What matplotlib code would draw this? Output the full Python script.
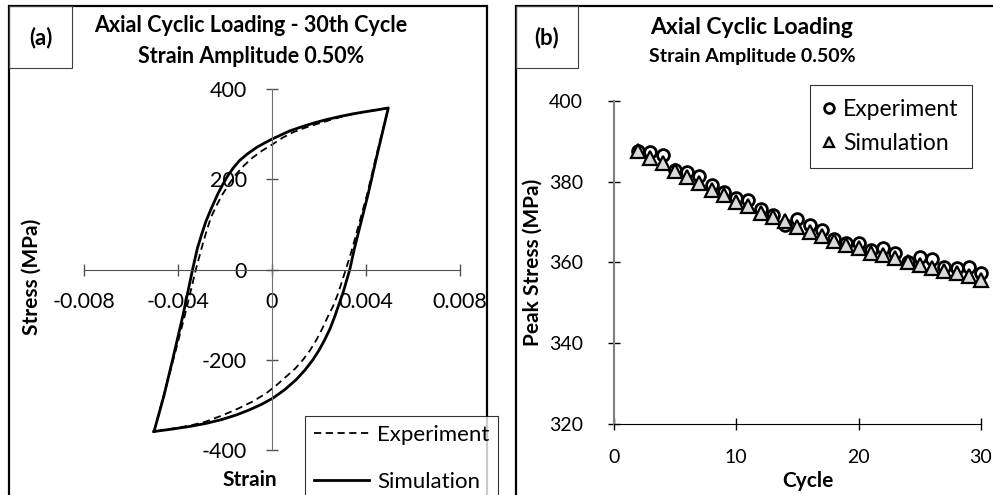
import matplotlib
matplotlib.use("Agg")
import matplotlib.pyplot as plt
from matplotlib.patches import Rectangle
from matplotlib.lines import Line2D

plt.rcParams['font.family'] = ['Lato', 'DejaVu Sans']
plt.rcParams['axes.unicode_minus'] = False

# (a) hysteresis loop, 30th cycle  (strain, stress MPa)
sim_strain = [-0.00502, -0.00460, -0.00423, -0.00380, -0.00338, -0.00317, -0.00298,
              -0.00281, -0.00256, -0.00231, -0.00210, -0.00189, -0.00165, -0.00139,
              -0.00105, -0.00067, -0.00033, 0.0, 0.00075, 0.00125, 0.00174, 0.00230,
              0.00288, 0.00345, 0.00402, 0.00450, 0.00495,
              0.00450, 0.00409, 0.00373, 0.00350, 0.00331, 0.00302, 0.00267, 0.00248,
              0.00224, 0.00200, 0.00174, 0.00140, 0.00103, 0.00055, 0.00004, -0.00045,
              -0.00096, -0.00150, -0.00210, -0.00280, -0.00352, -0.00430, -0.00502]
sim_stress = [-359, -280, -200, -104, 0, 48, 80,
              107, 138, 167, 188, 207, 225, 241,
              256, 270, 280, 289, 307, 316, 324, 332,
              339, 345, 350, 354, 358,
              260, 167, 93, 45, 0, -52, -104, -130,
              -156, -179, -200, -223, -244, -266, -285, -299,
              -311, -322, -332, -341, -348, -354, -359]

exp_strain = [-0.00502, -0.00420, -0.00372, -0.00324, -0.00295, -0.00278, -0.00260,
              -0.00236, -0.00210, -0.00182, -0.00153, -0.00118, -0.00082, -0.00040,
              0.00004, 0.00045, 0.00089, 0.00140, 0.00189, 0.00245, 0.00300, 0.00350,
              0.00400, 0.00450, 0.00495,
              0.00445, 0.00405, 0.00366, 0.00338, 0.00314, 0.00282, 0.00261, 0.00238,
              0.00214, 0.00189, 0.00162, 0.00132, 0.00098, 0.00061, 0.00020, -0.00024,
              -0.00080, -0.00139, -0.00210, -0.00281, -0.00350, -0.00430, -0.00502]
exp_stress = [-359, -200, -104, 0, 56, 86, 115,
              142, 167, 190, 211, 231, 248, 264,
              278, 292, 304, 314, 322, 331, 339, 345,
              350, 354, 358,
              255, 167, 93, 40, 0, -52, -80, -104,
              -131, -156, -179, -200, -220, -237, -256, -274,
              -292, -307, -323, -337, -346, -353, -359]

# (b) peak stress per cycle
cycles = list(range(2, 31))
exp_peak = [387.7, 387.4, 386.6, 383.0, 382.5, 381.4, 379.2, 377.5, 375.9, 375.6,
            373.2, 371.8, 369.3, 370.7, 369.3, 368.0, 365.8, 364.8, 364.9, 363.0,
            363.5, 362.3, 360.0, 361.4, 360.8, 359.0, 358.6, 359.0, 357.3]
sim_peak = [387.7, 385.8, 384.6, 382.7, 381.1, 379.6, 378.0, 376.7, 375.1, 374.0,
            372.2, 371.2, 370.4, 368.8, 367.6, 366.6, 365.4, 364.3, 363.5, 362.4,
            361.9, 361.0, 360.0, 359.4, 358.6, 358.0, 357.3, 356.7, 355.7]

W, H = 993, 495
fig = plt.figure(figsize=(W / 100, H / 100), dpi=100)


def fx(px):
    return px / W


def fy(py):
    return 1 - py / H


# panel frames and label boxes
for x0, x1 in [(9, 487), (516, 1000)]:
    fig.patches.append(Rectangle((fx(x0), -0.05), fx(x1 - x0), fy(6) + 0.05,
                                 transform=fig.transFigure, fill=False,
                                 edgecolor='black', linewidth=1.6))
for x0, x1, lab in [(9, 72, '(a)'), (516, 578, '(b)')]:
    fig.patches.append(Rectangle((fx(x0), fy(68)), fx(x1 - x0), fy(6) - fy(68),
                                 transform=fig.transFigure, fill=False,
                                 edgecolor='#404040', linewidth=0.8))
    fig.text(fx((x0 + x1) / 2), fy(38), lab, ha='center', va='center',
             fontsize=16, fontweight='bold')

# ---------- (a) ----------
ax1 = fig.add_axes([fx(84), fy(450), fx(460 - 84), fy(89) - fy(450)])
ax1.plot(exp_strain, exp_stress, color='black', linestyle=(0, (4, 2.5)), linewidth=1.3)
ax1.plot(sim_strain, sim_stress, color='black', linewidth=2.0)
ax1.set_xlim(-0.008, 0.008)
ax1.set_ylim(-400, 400)
ax1.set_xticks([-0.008, -0.004, 0, 0.004, 0.008])
ax1.set_xticklabels(['-0.008', '-0.004', '0', '0.004', '0.008'])
ax1.set_yticks([-400, -200, 0, 200, 400])
ax1.spines['left'].set_position(('data', 0))
ax1.spines['bottom'].set_position(('data', 0))
ax1.spines['top'].set_visible(False)
ax1.spines['right'].set_visible(False)
ax1.spines['left'].set_color('#707070')
ax1.spines['bottom'].set_color('#505050')
ax1.tick_params(direction='inout', length=8, width=1, labelsize=15.5, colors='#505050',
                labelcolor='black')
ax1.tick_params(axis='x', pad=12)
ax1.tick_params(axis='y', pad=14)
ax1.patch.set_visible(False)

fig.text(fx(251), fy(26), 'Axial Cyclic Loading - 30th Cycle', ha='center', va='center',
         fontsize=15.5, fontweight='bold')
fig.text(fx(251), fy(56), 'Strain Amplitude 0.50%', ha='center', va='center',
         fontsize=15.5, fontweight='bold')
fig.text(fx(32), fy(277), 'Stress (MPa)', rotation=90, ha='center', va='center',
         fontsize=15, fontweight='bold')
fig.text(fx(250), fy(480), 'Strain', ha='center', va='center',
         fontsize=15, fontweight='bold')

h1 = [Line2D([], [], color='black', linestyle=(0, (4, 2.5)), linewidth=1.3),
      Line2D([], [], color='black', linewidth=2.0)]
leg1 = fig.legend(h1, ['Experiment', 'Simulation'], loc='upper left',
                  bbox_to_anchor=(fx(305), fy(416)), fontsize=16, frameon=True,
                  fancybox=False, handlelength=2.5, handletextpad=0.35,
                  labelspacing=1.2, borderpad=0.4, borderaxespad=0)
leg1.get_frame().set_edgecolor('black')
leg1.get_frame().set_linewidth(0.8)

# ---------- (b) ----------
ax2 = fig.add_axes([fx(613.7), fy(424), fx(981 - 613.7), fy(101) - fy(424)])
ax2.plot(cycles, exp_peak, linestyle='none', marker='o', markersize=8.5,
         markerfacecolor='white', markeredgecolor='black', markeredgewidth=2.0,
         label='Experiment')
ax2.plot(cycles, sim_peak, linestyle='none', marker='^', markersize=10,
         markerfacecolor='#d9d9d9', markeredgecolor='black', markeredgewidth=1.6,
         label='Simulation')
ax2.set_xlim(0, 30)
ax2.set_ylim(320, 400)
ax2.set_xticks([0, 10, 20, 30])
ax2.set_yticks([320, 340, 360, 380, 400])
ax2.spines['top'].set_visible(False)
ax2.spines['right'].set_visible(False)
ax2.spines['left'].set_color('#808080')
ax2.spines['left'].set_linewidth(1.5)
ax2.tick_params(direction='inout', length=8, width=1, labelsize=14)
ax2.tick_params(axis='x', pad=14)
ax2.tick_params(axis='y', pad=18)
ax2.patch.set_visible(False)
for m in ax2.lines:
    m.set_clip_on(False)

fig.text(fx(752), fy(27), 'Axial Cyclic Loading', ha='center', va='center',
         fontsize=16.5, fontweight='bold')
fig.text(fx(752), fy(56), 'Strain Amplitude 0.50%', ha='center', va='center',
         fontsize=14, fontweight='bold')
fig.text(fx(533), fy(262), 'Peak Stress (MPa)', rotation=90, ha='center', va='center',
         fontsize=15, fontweight='bold')
fig.text(fx(808), fy(481), 'Cycle', ha='center', va='center',
         fontsize=15, fontweight='bold')

leg2 = ax2.legend(loc='upper right', bbox_to_anchor=(fx(972), fy(85)),
                  bbox_transform=fig.transFigure, fontsize=16.5, frameon=True,
                  fancybox=False, handlelength=0.5, handletextpad=0.35,
                  labelspacing=0.6, borderpad=0.6, borderaxespad=0)
leg2.get_frame().set_edgecolor('black')
leg2.get_frame().set_linewidth(0.8)
for h in leg2.legend_handles:
    h.set_markersize(7)

fig.savefig('out.png', dpi=100)
